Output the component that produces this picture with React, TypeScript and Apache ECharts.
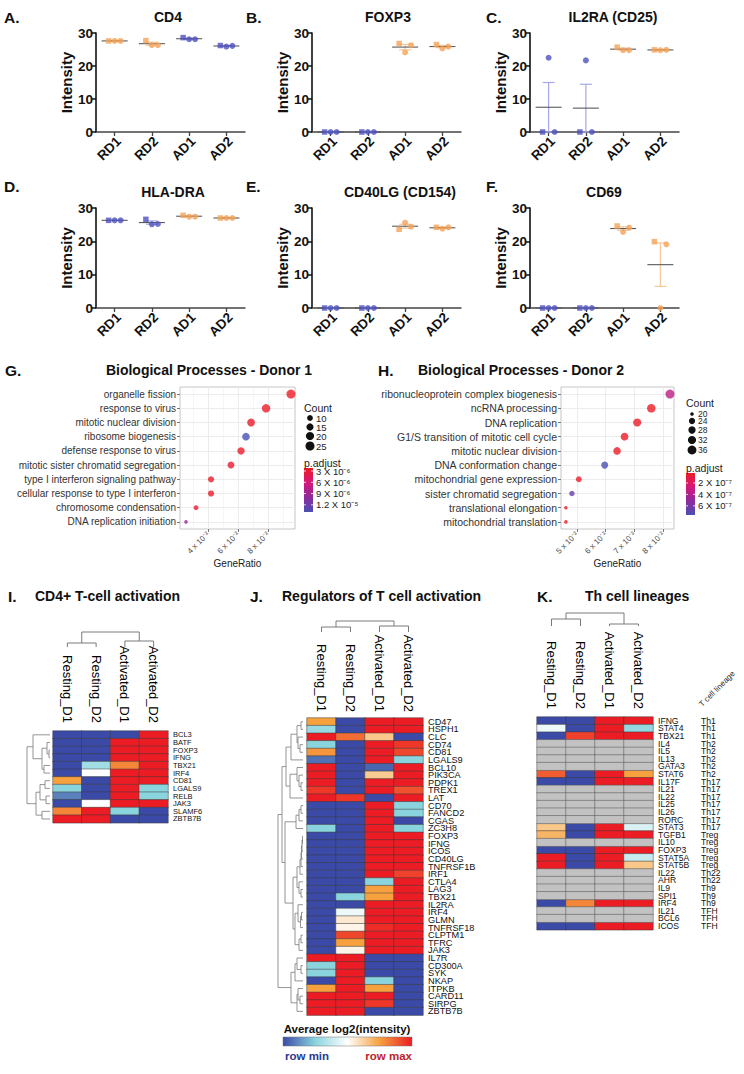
import React, { useEffect, useRef } from 'react';
import * as echarts from 'echarts';

const W = 744;
const H = 1074;
const FONT = "'Liberation Sans', Arial, Helvetica, sans-serif";

// ===================== Panels A–F : intensity per group =====================
const groupLabels = ['RD1', 'RD2', 'AD1', 'AD2'];
const intensityMax = 30;
const intensityStep = 10;

const cd4Values = [[27.6, 27.6, 27.6], [27.7, 26.3, 26.3], [28.6, 28.1, 28.1], [26.2, 25.9, 26.1]];
const foxp3Values = [[0, 0, 0], [0, 0, 0], [26.8, 24.1, 26.3], [26.5, 25.3, 25.9]];
const il2raValues = [[0, 22.5, 0], [0, 21.7, 0], [25.7, 24.8, 24.8], [24.9, 24.8, 24.9]];
const hladraValues = [[26.3, 26.3, 26.3], [26.6, 25.1, 25.2], [27.8, 27.4, 27.4], [27.0, 27.0, 27.0]];
const cd40lgValues = [[0, 0, 0], [0, 0, 0], [23.6, 25.6, 24.4], [24.2, 23.8, 24.2]];
const cd69Values = [[0, 0, 0], [0, 0, 0], [24.6, 22.8, 24.1], [19.9, 0, 19.1]];

const panelTitles = ['CD4', 'FOXP3', 'IL2RA (CD25)', 'HLA-DRA', 'CD40LG (CD154)', 'CD69'];
const panelLetters = ['A.', 'B.', 'C.', 'D.', 'E.', 'F.'];
const panelValues = [cd4Values, foxp3Values, il2raValues, hladraValues, cd40lgValues, cd69Values];
// 0 = orange, 1 = blue
const panelTone = [
  [0, 0, 1, 1],
  [1, 1, 0, 0],
  [1, 1, 0, 0],
  [1, 1, 0, 0],
  [1, 1, 0, 0],
  [1, 1, 0, 0],
];

// ===================== Panels G, H : GO dot plots =====================
const gTerms = [
  'organelle fission', 'response to virus', 'mitotic nuclear division', 'ribosome biogenesis',
  'defense response to virus', 'mitotic sister chromatid segregation', 'type I interferon signaling pathway',
  'cellular response to type I interferon', 'chromosome condensation', 'DNA replication initiation',
];
const gRatio = [0.0953, 0.0787, 0.0687, 0.0653, 0.062, 0.0553, 0.042, 0.042, 0.032, 0.0253];
const gCount = [25, 21, 18, 17, 16, 14, 11, 11, 8, 7];
const gPadj = [2.3e-6, 2.5e-6, 2.6e-6, 1.39e-5, 2.7e-6, 2.8e-6, 2.4e-6, 2.5e-6, 2.9e-6, 9.6e-6];
const gXRange = [0.0213, 0.098];
const gLabelTicks = [0.04, 0.06, 0.08];
const gGridTicks = [0.03, 0.04, 0.05, 0.06, 0.07, 0.08, 0.09];
const gCountBreaks = [10, 15, 20, 25];
const gPRange = [2.2e-6, 1.39e-5];
const gPBreaks = [3e-6, 6e-6, 9e-6, 1.2e-5];
const gPLabels = ['3 X 10⁻⁶', '6 X 10⁻⁶', '9 X 10⁻⁶', '1.2 X 10⁻⁵'];

const hTerms = [
  'ribonucleoprotein complex biogenesis', 'ncRNA processing', 'DNA replication',
  'G1/S transition of mitotic cell cycle', 'mitotic nuclear division', 'DNA conformation change',
  'mitochondrial gene expression', 'sister chromatid segregation', 'translational elongation',
  'mitochondrial translation',
];
const hRatio = [0.0824, 0.0759, 0.071, 0.0666, 0.064, 0.0597, 0.0507, 0.0483, 0.0462, 0.0462];
const hCount = [37, 34, 32, 30, 29, 27, 23, 22, 20, 20];
const hPadj = [3.6e-7, 3e-8, 3e-8, 3.5e-8, 3.5e-8, 7.6e-7, 4e-8, 6.5e-7, 3e-8, 3e-8];
const hXRange = [0.0445, 0.0838];
const hLabelTicks = [0.05, 0.06, 0.07, 0.08];
const hGridTicks = [0.05, 0.055, 0.06, 0.065, 0.07, 0.075, 0.08];
const hCountBreaks = [20, 24, 28, 32, 36];
const hPRange = [2.6e-8, 7.6e-7];
const hPBreaks = [2e-7, 4e-7, 6e-7];
const hPLabels = ['2 X 10⁻⁷', '4 X 10⁻⁷', '6 X 10⁻⁷'];

// ===================== Panels I, J, K : heatmaps (row-scaled 0..1) =====================
const sampleNames = ['Resting_D1', 'Resting_D2', 'Activated_D1', 'Activated_D2'];

const iGenes = ['BCL3', 'BATF', 'FOXP3', 'IFNG', 'TBX21', 'IRF4', 'CD81', 'LGALS9', 'RELB', 'JAK3', 'SLAMF6', 'ZBTB7B'];
const iValues = [
  [0, 0, 0, 1],
  [0, 0, 1, 1],
  [0, 0, 1, 1],
  [0, 0, 1, 1],
  [0, 0.3, 0.8, 1],
  [0, 0.5, 1, 1],
  [0.75, 0, 1, 1],
  [0.25, 0, 1, 0.25],
  [0.1, 0, 1, 0.25],
  [0, 0.5, 1, 1],
  [0.8, 1, 0.25, 0],
  [1, 1, 0, 0],
];

const jGenes = [
  'CD47', 'HSPH1', 'CLC', 'CD74', 'CD81', 'LGALS9', 'BCL10', 'PIK3CA', 'PDPK1', 'TREX1', 'LAT',
  'CD70', 'FANCD2', 'CGAS', 'ZC3H8', 'FOXP3', 'IFNG', 'ICOS', 'CD40LG', 'TNFRSF1B', 'IRF1',
  'CTLA4', 'LAG3', 'TBX21', 'IL2RA', 'IRF4', 'GLMN', 'TNFRSF18', 'CLPTM1', 'TFRC', 'JAK3',
  'IL7R', 'CD300A', 'SYK', 'NKAP', 'ITPKB', 'CARD11', 'SIRPG', 'ZBTB7B',
];
const jValues = [
  [0.75, 0, 1, 1],
  [0.28, 0, 1, 1],
  [1, 0.85, 0.65, 0],
  [0.25, 0, 1, 0.95],
  [0.77, 0, 1, 0.92],
  [0.07, 0, 1, 0.25],
  [1, 0, 0.05, 1],
  [1, 0, 0.64, 1],
  [1, 0, 1, 1],
  [0.95, 0, 1, 0.9],
  [1, 0.95, 0, 1],
  [0, 0, 1, 0.25],
  [0, 0, 1, 0.25],
  [0, 0, 1, 0],
  [0.25, 0, 1, 0.25],
  [0, 0, 1, 1],
  [0, 0, 1, 1],
  [0, 0, 1, 1],
  [0, 0, 1, 1],
  [0, 0, 1, 1],
  [0, 0, 1, 0.93],
  [0, 0, 0.25, 1],
  [0, 0, 0.75, 1],
  [0, 0.25, 0.75, 1],
  [0, 0, 1, 1],
  [0, 0.46, 1, 1],
  [0, 0.56, 1, 1],
  [0, 0.53, 0.97, 1],
  [0, 0.92, 1, 1],
  [0, 0.75, 1, 1],
  [0, 0.53, 1, 1],
  [1, 1, 0, 0],
  [0.25, 1, 0, 0],
  [0.25, 1, 0, 0],
  [0, 1, 0.25, 0],
  [0.75, 1, 0.75, 0],
  [1, 1, 1, 0],
  [1, 1, 0.95, 0],
  [1, 1, 0, 0],
];

const kGenes = [
  'IFNG', 'STAT4', 'TBX21', 'IL4', 'IL5', 'IL13', 'GATA3', 'STAT6', 'IL17F', 'IL21', 'IL22', 'IL25',
  'IL26', 'RORC', 'STAT3', 'TGFB1', 'IL10', 'FOXP3', 'STAT5A', 'STAT5B', 'IL22', 'AHR', 'IL9', 'SPI1',
  'IRF4', 'IL21', 'BCL6', 'ICOS',
];
const kLineage = [
  'Th1', 'Th1', 'Th1', 'Th2', 'Th2', 'Th2', 'Th2', 'Th2', 'Th17', 'Th17', 'Th17', 'Th17', 'Th17', 'Th17',
  'Th17', 'Treg', 'Treg', 'Treg', 'Treg', 'Treg', 'Th22', 'Th22', 'Th9', 'Th9', 'Th9', 'TFH', 'TFH', 'TFH',
];
const NA = null;
const kValues = [
  [0, 0, 1, 1],
  [0.46, 0, 1, 0.27],
  [0, 0.93, 1, 1],
  [NA, NA, NA, NA],
  [NA, NA, NA, NA],
  [NA, NA, NA, NA],
  [NA, NA, NA, NA],
  [0.88, 0, 1, 0.75],
  [0, 0, 1, 1],
  [NA, NA, NA, NA],
  [NA, NA, NA, NA],
  [NA, NA, NA, NA],
  [NA, NA, NA, NA],
  [NA, NA, NA, NA],
  [0.65, 0, 1, 0.42],
  [0.7, 0, 1, 1],
  [NA, NA, NA, NA],
  [0, 0, 1, 1],
  [1, 0, 1, 0.38],
  [1, 0, 1, 0.65],
  [NA, NA, NA, NA],
  [NA, NA, NA, NA],
  [NA, NA, NA, NA],
  [NA, NA, NA, NA],
  [0, 0.8, 1, 1],
  [NA, NA, NA, NA],
  [NA, NA, NA, NA],
  [0, 0, 1, 1],
];

// dendrograms: [height, left, right], leaves are row/column indices
const iColTree = [15, [4, 0, 1], [6, 2, 3]];
const jColTree = [11, [5, 0, 1], [6, 2, 3]];
const kColTree = [13, [7, 0, 1], [2, 2, 3]];
const iRowTree = [23, [17, 0, [8, [3, 1, [1, 2, 3]], [6, 4, 5]]], [14, [10, [5, 6, 7], [4, 8, 9]], [8, 10, 11]]];
const jRowTree = [
  25,
  [21,
    [17,
      [12, [6, [2, 0, 1], [5, 2, [3, 3, 4]]], 5],
      [13, [6, 6, [4, 7, [2, 8, 9]]], 10]],
    [18,
      [7, [4, [2, 11, 12], 13], 14],
      [10,
        [6, [3, [2, [1.5, [1, [0.5, 15, 16], 17], 18], 19], 20], [4, 21, [2, 22, 23]]],
        [8, [5, 24, [2.5, [1.5, 25, 26], 27]], [4, [2, 28, 29], 30]]]]],
  [12, [8, [6, 31, [2, 32, 33]], 34], [6, [5, 35, [3, 36, 37]], 38]],
];

// ===================== styling =====================
const TONE = ['#f4a35a', '#4f51bf'];
const TONE_ERR = ['#f7c79a', '#a6a7e6'];
const P_COLORS = ['#ed1c24', '#d4177a', '#8e2a9c', '#4b50b4'];
const HEAT_COLORS = ['#3a4aa6', '#8ad4de', '#ffffff', '#f6a13e', '#ec1c24'];
const NA_COLOR = '#c2c2c2';

function mean(a: number[]) {
  return a.reduce((s, v) => s + v, 0) / a.length;
}
function sem(a: number[]) {
  const m = mean(a);
  const v = a.reduce((s, x) => s + (x - m) * (x - m), 0) / (a.length - 1);
  return Math.sqrt(v / a.length);
}

function treeWalk(node: any, leafPos: (i: number) => number, out: number[][][]): [number, number] {
  if (typeof node === 'number') return [leafPos(node), 0];
  const [h, a, b] = node;
  const A = treeWalk(a, leafPos, out);
  const B = treeWalk(b, leafPos, out);
  out.push([[A[0], A[1]], [A[0], h], [B[0], h], [B[0], B[1]]]);
  return [(A[0] + B[0]) / 2, h];
}

function buildOption() {
  const grid: any[] = [];
  const xAxis: any[] = [];
  const yAxis: any[] = [];
  const series: any[] = [];
  const visualMap: any[] = [];
  const graphic: any[] = [];

  const text = (x: number, y: number, t: string, size: number, o: any = {}) =>
    graphic.push({
      type: 'text', x, y, silent: true, z: 10, rotation: o.rotation || 0,
      style: {
        text: t, fontSize: size, fontWeight: o.weight || 'normal', fontFamily: FONT,
        fill: o.fill || '#111', align: o.align || 'left', verticalAlign: o.valign || 'middle',
      },
    });

  // ---------- A–F ----------
  const SC_LEFT = [96, 312, 530];
  const SC_TOP = [33, 208];
  const SC_H = [99, 100];
  const SC_W = 149;
  const SC_TITLE_X = [168, 388, 613, 173, 400, 604];
  const SC_TITLE_Y = [17, 192];
  const SC_LETTER_X = [4, 246, 486];
  const SC_LETTER_Y = [17, 186];
  const REP_SYMBOL = ['rect', 'circle', 'circle'];
  const REP_SIZE = [5.5, 6, 6];
  const REP_OFFSET = [-6, 0, 6];

  panelValues.forEach((vals, k) => {
    const col = k % 3;
    const row = Math.floor(k / 3);
    const gi = grid.length;
    grid.push({ left: SC_LEFT[col], top: SC_TOP[row], width: SC_W, height: SC_H[row], outerBoundsMode: 'none' });
    const bold = { fontFamily: FONT, fontWeight: 'bold', color: '#111' };
    xAxis.push({
      gridIndex: gi, type: 'category', data: groupLabels, boundaryGap: true,
      axisLine: { show: true, lineStyle: { color: '#444', width: 1.5 } },
      axisTick: { show: true, alignWithLabel: true, length: 4, lineStyle: { color: '#444', width: 1.3 } },
      axisLabel: { show: false },
      splitLine: { show: false },
    });
    yAxis.push({
      gridIndex: gi, type: 'value', min: 0, max: intensityMax, interval: intensityStep,
      axisLine: { show: true, lineStyle: { color: '#111', width: 1.6 } },
      axisTick: { show: true, length: 4, lineStyle: { color: '#111', width: 1.5 } },
      axisLabel: { ...bold, fontSize: 13.5, margin: 3 },
      splitLine: { show: false },
      name: 'Intensity', nameLocation: 'middle', nameGap: 20,
      nameTextStyle: { ...bold, fontSize: 15 },
    });
    // rotated group labels under each tick
    const axisY = SC_TOP[row] + SC_H[row];
    groupLabels.forEach((g, i) => {
      const tx = SC_LEFT[col] + ((i + 0.5) * SC_W) / groupLabels.length;
      text(tx + 4, axisY + 7, g, 13.5, { weight: 'bold', align: 'right', rotation: Math.PI / 4 });
    });
    series.push({
      type: 'custom', xAxisIndex: gi, yAxisIndex: gi, z: 2, silent: true, clip: false,
      data: vals.map((reps, i) => {
        const m = mean(reps);
        const s = sem(reps);
        return [i, m, m - s, m + s, panelTone[k][i]];
      }),
      encode: { x: 0, y: 1 },
      renderItem: (params: any, api: any) => {
        const xi = api.value(0);
        const c = api.coord([xi, api.value(1)]);
        const lo = api.coord([xi, api.value(2)]);
        const hi = api.coord([xi, api.value(3)]);
        const err = TONE_ERR[api.value(4)];
        const cap = 6;
        const half = 13;
        const st = { stroke: err, lineWidth: 1.2 };
        return {
          type: 'group',
          children: [
            { type: 'line', shape: { x1: c[0], y1: lo[1], x2: c[0], y2: hi[1] }, style: st },
            { type: 'line', shape: { x1: c[0] - cap, y1: hi[1], x2: c[0] + cap, y2: hi[1] }, style: st },
            { type: 'line', shape: { x1: c[0] - cap, y1: lo[1], x2: c[0] + cap, y2: lo[1] }, style: st },
            { type: 'line', shape: { x1: c[0] - half, y1: c[1], x2: c[0] + half, y2: c[1] }, style: { stroke: '#5a5a5a', lineWidth: 1.1 } },
          ],
        };
      },
    });
    for (let r = 0; r < 3; r++) {
      series.push({
        type: 'scatter', xAxisIndex: gi, yAxisIndex: gi, z: 3, silent: true, clip: false,
        symbol: REP_SYMBOL[r], symbolSize: REP_SIZE[r], symbolOffset: [REP_OFFSET[r], 0],
        data: vals.map((reps, i) => ({ value: [i, reps[r]], itemStyle: { color: TONE[panelTone[k][i]] } })),
      });
    }
    text(SC_TITLE_X[k], SC_TITLE_Y[row], panelTitles[k], 14, { weight: 'bold', align: 'center' });
    text(SC_LETTER_X[col], SC_LETTER_Y[row], panelLetters[k], 15.5, { weight: 'bold' });
  });

  // ---------- G, H ----------
  const dotPanels = [
    {
      letter: 'G.', title: 'Biological Processes - Donor 1', letterX: 5, titleX: 209,
      left: 180, width: 115, terms: gTerms, ratio: gRatio, count: gCount, padj: gPadj,
      xr: gXRange, labelTicks: gLabelTicks, gridTicks: gGridTicks, major: gLabelTicks,
      countBreaks: gCountBreaks, pRange: gPRange, pBreaks: gPBreaks, pLabels: gPLabels,
      legX: 304, countY: [418, 427, 436, 446], countTitleY: 408, pTitleY: 463, barTop: 468, barH: 44,
      labelSize: 10, countLabelSize: 9.5,
    },
    {
      letter: 'H.', title: 'Biological Processes - Donor 2', letterX: 378, titleX: 521,
      left: 561, width: 113, terms: hTerms, ratio: hRatio, count: hCount, padj: hPadj,
      xr: hXRange, labelTicks: hLabelTicks, gridTicks: hGridTicks, major: hLabelTicks,
      countBreaks: hCountBreaks, pRange: hPRange, pBreaks: hPBreaks, pLabels: hPLabels,
      legX: 686, countY: [414, 421, 430, 440, 450], countTitleY: 403, pTitleY: 468, barTop: 473, barH: 42,
      labelSize: 10.5, countLabelSize: 8.5,
    },
  ];
  const DOT_TOP = 387;
  const DOT_H = 142;
  dotPanels.forEach((d) => {
    const gi = grid.length;
    grid.push({
      left: d.left, top: DOT_TOP, width: d.width, height: DOT_H, show: true,
      borderColor: '#c6c6c6', borderWidth: 1, backgroundColor: '#fff', outerBoundsMode: 'none',
    });
    const cMin = Math.min(...d.count);
    const cMax = Math.max(...d.count);
    const sizeOf = (c: number) => 3.6 + 5.4 * Math.sqrt(Math.max(0, Math.min(1, (c - cMin) / (cMax - cMin))));
    xAxis.push({
      gridIndex: gi, type: 'value', min: d.xr[0], max: d.xr[1],
      axisLine: { show: false },
      axisTick: { show: true, customValues: d.labelTicks, length: 3, lineStyle: { color: '#777' } },
      axisLabel: {
        customValues: d.labelTicks, rotate: 45, margin: 4, fontSize: 8, color: '#4d4d4d', fontFamily: FONT,
        formatter: (v: number) => {
          const hit = d.labelTicks.some((t) => Math.abs(t - v) < 1e-9);
          return hit ? `${Math.round(v * 100)} x 10⁻²` : '';
        },
      },
      splitLine: { show: false },
      name: 'GeneRatio', nameLocation: 'middle', nameGap: 15,
      nameTextStyle: { fontSize: 10, color: '#222', fontFamily: FONT },
    });
    yAxis.push({
      gridIndex: gi, type: 'category', data: d.terms, inverse: true,
      axisLine: { show: false },
      axisTick: { show: true, alignWithLabel: true, length: 3, lineStyle: { color: '#777' } },
      axisLabel: { interval: 0, fontSize: d.labelSize, color: '#333', margin: 4, fontFamily: FONT },
      splitLine: { show: false },
    });
    const si = series.length;
    series.push({
      type: 'scatter', xAxisIndex: gi, yAxisIndex: gi, z: 3, silent: true,
      data: d.terms.map((t, i) => [d.ratio[i], i, d.count[i], d.padj[i]]),
      symbolSize: (v: number[]) => sizeOf(v[2]),
      markLine: {
        silent: true, symbol: ['none', 'none'], z: 1, animation: false,
        label: { show: false },
        lineStyle: { type: 'solid', color: '#ececec', width: 1 },
        data: [
          ...d.gridTicks.map((v) => ({ xAxis: v, lineStyle: { type: 'solid', color: '#ececec', width: d.major.some((m) => Math.abs(m - v) < 1e-9) ? 1 : 0.5 } })),
          ...d.terms.map((t) => ({ yAxis: t, lineStyle: { type: 'solid', color: '#ececec', width: 1 } })),
        ],
      },
    });
    visualMap.push({
      type: 'continuous', show: false, seriesIndex: si, dimension: 3,
      min: d.pRange[0], max: d.pRange[1], inRange: { color: P_COLORS },
    });
    text(d.letterX, 370, d.letter, 15.5, { weight: 'bold' });
    text(d.titleX, 370, d.title, 14, { weight: 'bold', align: 'center' });
    // legends
    text(d.legX, d.countTitleY, 'Count', 10.5, { fill: '#222' });
    d.countBreaks.forEach((c, i) => {
      graphic.push({ type: 'circle', silent: true, shape: { cx: d.legX + 6, cy: d.countY[i], r: sizeOf(c) / 2 }, style: { fill: '#111' } });
      text(d.legX + 12, d.countY[i], String(c), d.countLabelSize, { fill: '#222' });
    });
    text(d.legX, d.pTitleY, 'p.adjust', 10.5, { fill: '#222' });
    graphic.push({
      type: 'rect', silent: true, shape: { x: d.legX, y: d.barTop, width: 9, height: d.barH },
      style: {
        fill: new echarts.graphic.LinearGradient(0, 0, 0, 1, P_COLORS.map((c, i) => ({ offset: i / (P_COLORS.length - 1), color: c }))),
      },
    });
    d.pBreaks.forEach((p, i) => {
      const y = d.barTop + ((p - d.pRange[0]) / (d.pRange[1] - d.pRange[0])) * d.barH;
      graphic.push({ type: 'line', silent: true, shape: { x1: d.legX, y1: y, x2: d.legX + 2, y2: y }, style: { stroke: '#fff', lineWidth: 0.8 } });
      graphic.push({ type: 'line', silent: true, shape: { x1: d.legX + 7, y1: y, x2: d.legX + 9, y2: y }, style: { stroke: '#fff', lineWidth: 0.8 } });
      text(d.legX + 12, y, d.pLabels[i], 9.5, { fill: '#222' });
    });
  });

  // ---------- I, J, K ----------
  const heatPanels = [
    {
      letter: 'I.', letterX: 8, title: 'CD4+ T-cell activation', titleX: 35,
      left: 53, top: 731, width: 115, rowH: 7.65, genes: iGenes, values: iValues,
      colTree: iColTree, colBase: 647, rowTree: iRowTree, rowBase: 50, geneSize: 7.5, labelMargin: 8,
    },
    {
      letter: 'J.', letterX: 250, title: 'Regulators of T cell activation', titleX: 282,
      left: 307, top: 718, width: 116, rowH: 7.62, genes: jGenes, values: jValues,
      colTree: jColTree, colBase: 632, rowTree: jRowTree, rowBase: 303, geneSize: 9.2, labelMargin: 6,
    },
    {
      letter: 'K.', letterX: 537, title: 'Th cell lineages', titleX: 585,
      left: 537, top: 717, width: 116, rowH: 7.6, genes: kGenes, values: kValues,
      colTree: kColTree, colBase: 626, rowTree: null, rowBase: 0, geneSize: 8.6, labelMargin: 8,
      lineage: kLineage,
    },
  ];
  const heatSeries: number[] = [];
  const naSeries: number[] = [];
  heatPanels.forEach((p: any) => {
    const gi = grid.length;
    const nRow = p.genes.length;
    const gh = nRow * p.rowH;
    grid.push({ left: p.left, top: p.top, width: p.width, height: gh, outerBoundsMode: 'none' });
    xAxis.push({
      gridIndex: gi, type: 'category', position: 'top', data: sampleNames,
      axisLine: { show: false }, axisTick: { show: false }, splitLine: { show: false },
      axisLabel: { interval: 0, rotate: 90, margin: p.labelMargin, fontSize: 13, color: '#000', fontFamily: FONT },
    });
    const yi = yAxis.length;
    yAxis.push({
      gridIndex: gi, type: 'category', position: 'right', data: p.genes, inverse: true,
      axisLine: { show: false }, axisTick: { show: false }, splitLine: { show: false },
      axisLabel: { interval: 0, fontSize: p.geneSize, color: '#111', margin: 5, fontFamily: FONT },
    });
    if (p.lineage) {
      yAxis.push({
        gridIndex: gi, type: 'category', position: 'right', offset: 43, data: p.lineage, inverse: true,
        axisLine: { show: false }, axisTick: { show: false }, splitLine: { show: false },
        axisLabel: { interval: 0, fontSize: p.geneSize, color: '#111', margin: 5, fontFamily: FONT },
      });
    }
    const cells: any[] = [];
    const naCells: any[] = [];
    p.values.forEach((row: any[], r: number) =>
      row.forEach((v, c) => {
        if (v === null) naCells.push([c, r, 0]);
        else cells.push([c, r, v]);
      }),
    );
    heatSeries.push(series.length);
    series.push({
      type: 'heatmap', xAxisIndex: gi, yAxisIndex: yi, data: cells, silent: true,
      itemStyle: { borderColor: '#3c3c3c', borderWidth: 0.5 },
    });
    if (naCells.length) {
      naSeries.push(series.length);
      series.push({
        type: 'heatmap', xAxisIndex: gi, yAxisIndex: yi, data: naCells, silent: true,
        itemStyle: { borderColor: '#555', borderWidth: 0.5 },
      });
    }
    // dendrograms
    const colW = p.width / sampleNames.length;
    const segsC: number[][][] = [];
    treeWalk(p.colTree, (i) => p.left + (i + 0.5) * colW, segsC);
    segsC.forEach((s) =>
      graphic.push({
        type: 'polyline', silent: true,
        shape: { points: s.map(([pos, h]) => [pos, p.colBase - h]) },
        style: { stroke: '#7a7a7a', lineWidth: 1, fill: null },
      }),
    );
    if (p.rowTree) {
      const segsR: number[][][] = [];
      treeWalk(p.rowTree, (i) => p.top + (i + 0.5) * p.rowH, segsR);
      segsR.forEach((s) =>
        graphic.push({
          type: 'polyline', silent: true,
          shape: { points: s.map(([pos, h]) => [p.rowBase - h, pos]) },
          style: { stroke: '#7a7a7a', lineWidth: 0.8, fill: null },
        }),
      );
    }
    text(p.letterX, 596, p.letter, 15.5, { weight: 'bold' });
    text(p.titleX, 596, p.title, 14, { weight: 'bold' });
  });
  text(717, 689, 'T cell lineage', 8, { align: 'center', rotation: Math.PI / 4, fill: '#222' });

  visualMap.push({
    type: 'continuous', show: false, seriesIndex: heatSeries, dimension: 2,
    min: 0, max: 1, inRange: { color: HEAT_COLORS },
  });
  visualMap.push({
    type: 'continuous', show: false, seriesIndex: naSeries, dimension: 2,
    min: 0, max: 1, inRange: { color: [NA_COLOR, NA_COLOR] },
  });

  // bottom colour key
  text(347, 1029, 'Average log2(intensity)', 11.5, { weight: 'bold', align: 'center' });
  graphic.push({
    type: 'rect', silent: true, shape: { x: 283, y: 1037, width: 129, height: 9 },
    style: {
      fill: new echarts.graphic.LinearGradient(0, 0, 1, 0, HEAT_COLORS.map((c, i) => ({ offset: i / (HEAT_COLORS.length - 1), color: c }))),
      stroke: '#777', lineWidth: 0.5,
    },
  });
  text(285, 1056, 'row min', 11.5, { weight: 'bold', fill: '#2b3990' });
  text(412, 1056, 'row max', 11.5, { weight: 'bold', fill: '#be1e2d', align: 'right' });

  return {
    animation: false,
    backgroundColor: '#ffffff',
    textStyle: { fontFamily: FONT },
    grid, xAxis, yAxis, series, visualMap, graphic,
  };
}

export default function App() {
  const ref = useRef<HTMLDivElement>(null);
  useEffect(() => {
    document.body.style.margin = '0';
    const chart = echarts.init(ref.current as HTMLDivElement, undefined, { renderer: 'svg', width: W, height: H });
    chart.setOption(buildOption() as any);
    return () => chart.dispose();
  }, []);
  return <div ref={ref} style={{ width: W, height: H, background: '#fff' }} />;
}
